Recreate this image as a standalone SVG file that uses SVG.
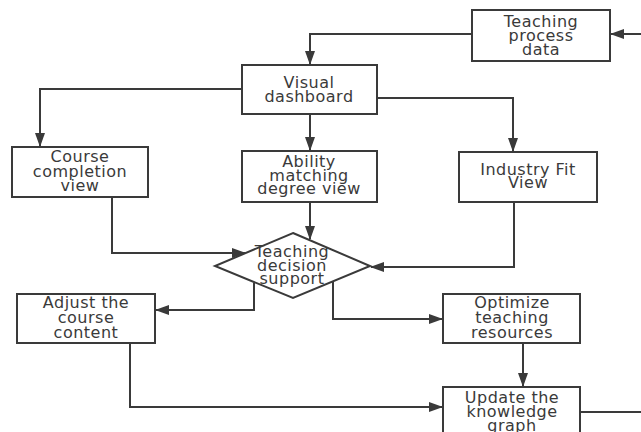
<svg xmlns="http://www.w3.org/2000/svg" width="641" height="432" viewBox="0 0 641 432">
  <style>
    .box { fill: #ffffff; stroke: #3a3a3a; stroke-width: 2; }
    .lbl { font-family: "DejaVu Sans", "Noto Sans", sans-serif; font-size: 16px; letter-spacing: 0.5px; fill: #3a3a3a; text-anchor: middle; }
    .wire { fill: none; stroke: #3a3a3a; stroke-width: 2; }
    .arr { marker-end: url(#head); }
  </style>
  <defs>
    <marker id="head" markerUnits="userSpaceOnUse" markerWidth="14" markerHeight="10" refX="13" refY="5" orient="auto">
      <path d="M0,0 L14,5 L0,10 Z" fill="#3a3a3a"/>
    </marker>
  </defs>
  <rect width="641" height="432" fill="#ffffff"/>

  <g id="connectors">
    <path class="wire arr" d="M641,34 H611"/>
    <path class="wire arr" d="M472,34 H310 V64"/>
    <path class="wire arr" d="M242,89 H40 V146"/>
    <path class="wire arr" d="M310,114 V150"/>
    <path class="wire arr" d="M377,98 H513 V151"/>
    <path class="wire arr" d="M112,197 V253 H245"/>
    <path class="wire arr" d="M310,202 V239"/>
    <path class="wire arr" d="M514,202 V267 H371"/>
    <path class="wire arr" d="M254,283 V310 H156"/>
    <path class="wire arr" d="M333,282 V319 H442"/>
    <path class="wire arr" d="M523,343 V386"/>
    <path class="wire arr" d="M130,343 V407 H442"/>
    <path class="wire" d="M580,412 H641"/>
  </g>

  <g id="teaching-process-data">
    <rect class="box" x="472" y="10" width="138" height="51"/>
    <text class="lbl" x="541" y="27">Teaching</text>
    <text class="lbl" x="541" y="41">process</text>
    <text class="lbl" x="541" y="55">data</text>
  </g>

  <g id="visual-dashboard">
    <rect class="box" x="242" y="65" width="135" height="49"/>
    <text class="lbl" x="309" y="88">Visual</text>
    <text class="lbl" x="309" y="102">dashboard</text>
  </g>

  <g id="course-completion-view">
    <rect class="box" x="12" y="147" width="136" height="50"/>
    <text class="lbl" x="80" y="162">Course</text>
    <text class="lbl" x="80" y="177">completion</text>
    <text class="lbl" x="80" y="191">view</text>
  </g>

  <g id="ability-matching-view">
    <rect class="box" x="242" y="151" width="135" height="51"/>
    <text class="lbl" x="309" y="167">Ability</text>
    <text class="lbl" x="309" y="181">matching</text>
    <text class="lbl" x="309" y="194">degree view</text>
  </g>

  <g id="industry-fit-view">
    <rect class="box" x="459" y="152" width="138" height="50"/>
    <text class="lbl" x="528" y="175">Industry Fit</text>
    <text class="lbl" x="528" y="188">View</text>
  </g>

  <g id="teaching-decision-support">
    <polygon class="box" points="293,233 370,266 293,298 215,266"/>
    <text class="lbl" x="292" y="257">Teaching</text>
    <text class="lbl" x="292" y="271">decision</text>
    <text class="lbl" x="292" y="284">support</text>
  </g>

  <g id="adjust-course-content">
    <rect class="box" x="17" y="294" width="138" height="49"/>
    <text class="lbl" x="86" y="308">Adjust the</text>
    <text class="lbl" x="86" y="323">course</text>
    <text class="lbl" x="86" y="338">content</text>
  </g>

  <g id="optimize-teaching-resources">
    <rect class="box" x="443" y="294" width="137" height="49"/>
    <text class="lbl" x="512" y="308">Optimize</text>
    <text class="lbl" x="512" y="323">teaching</text>
    <text class="lbl" x="512" y="338">resources</text>
  </g>

  <g id="update-knowledge-graph">
    <rect class="box" x="443" y="387" width="137" height="60"/>
    <text class="lbl" x="512" y="403">Update the</text>
    <text class="lbl" x="512" y="417">knowledge</text>
    <text class="lbl" x="512" y="431">graph</text>
  </g>
</svg>
